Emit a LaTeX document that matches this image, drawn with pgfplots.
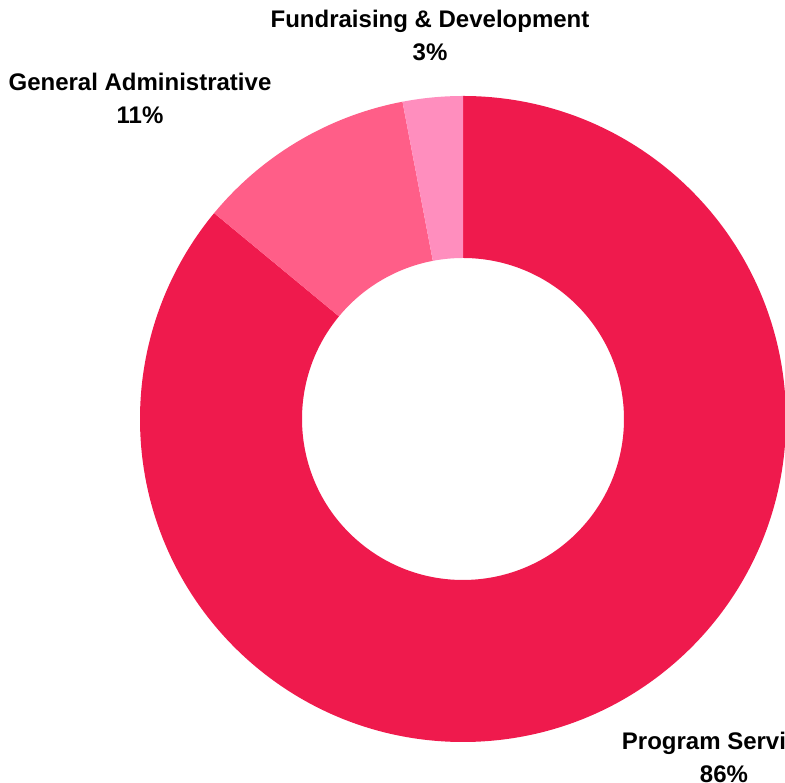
\documentclass[border=0pt]{standalone}
\usepackage{fontspec}
\setmainfont{Liberation Sans}
\usepackage{pgfplots}
\usepackage{pgfplotstable}
\pgfplotsset{compat=1.18}

\definecolor{slice0}{HTML}{EF1A4D}
\definecolor{slice1}{HTML}{FF5E88}
\definecolor{slice2}{HTML}{FF8EBE}

% share of expenses, in percent, clockwise from the top
\pgfplotstableread{
name value
Program 86
General 11
Fund 3
}\slicedata

\begin{document}
\begin{tikzpicture}
\begin{axis}[
    hide axis,
    scale only axis,
    width=785pt, height=783pt,
    xmin=0, xmax=785, ymin=0, ymax=783,
    clip=false,
]
\pgfplotstablegetrowsof{\slicedata}
\pgfmathtruncatemacro{\nrows}{\pgfplotsretval-1}
\def\startangle{90}
\pgfplotsforeachungrouped \i in {0,...,\nrows}{%
    \pgfplotstablegetelem{\i}{value}\of\slicedata
    \pgfmathsetmacro{\a}{\startangle}
    \pgfmathsetmacro{\b}{\startangle-3.6*\pgfplotsretval}
    \pgfmathsetmacro{\xa}{463+323*cos(\a)}
    \pgfmathsetmacro{\ya}{364+323*sin(\a)}
    \pgfmathsetmacro{\xb}{463+161*cos(\b)}
    \pgfmathsetmacro{\yb}{364+161*sin(\b)}
    \edef\temp{\noexpand\fill[slice\i] (axis cs:\xa,\ya)
        arc[start angle=\a, end angle=\b, radius=323pt]
        -- (axis cs:\xb,\yb)
        arc[start angle=\b, end angle=\a, radius=161pt] -- cycle;}
    \temp
    \global\let\startangle\b
}
\begin{scope}[every node/.style={align=center, font=\bfseries\fontsize{24}{33}\selectfont}]
\node at (axis cs:430,747.5) {Fundraising \& Development\\3\%};
\node at (axis cs:140,685) {General Administrative\\11\%};
\node at (axis cs:724,26) {Program Services\\86\%};
\end{scope}
\end{axis}
\pgfresetboundingbox
\path[use as bounding box] (current axis.south west) rectangle (current axis.north east);
\end{tikzpicture}
\end{document}
